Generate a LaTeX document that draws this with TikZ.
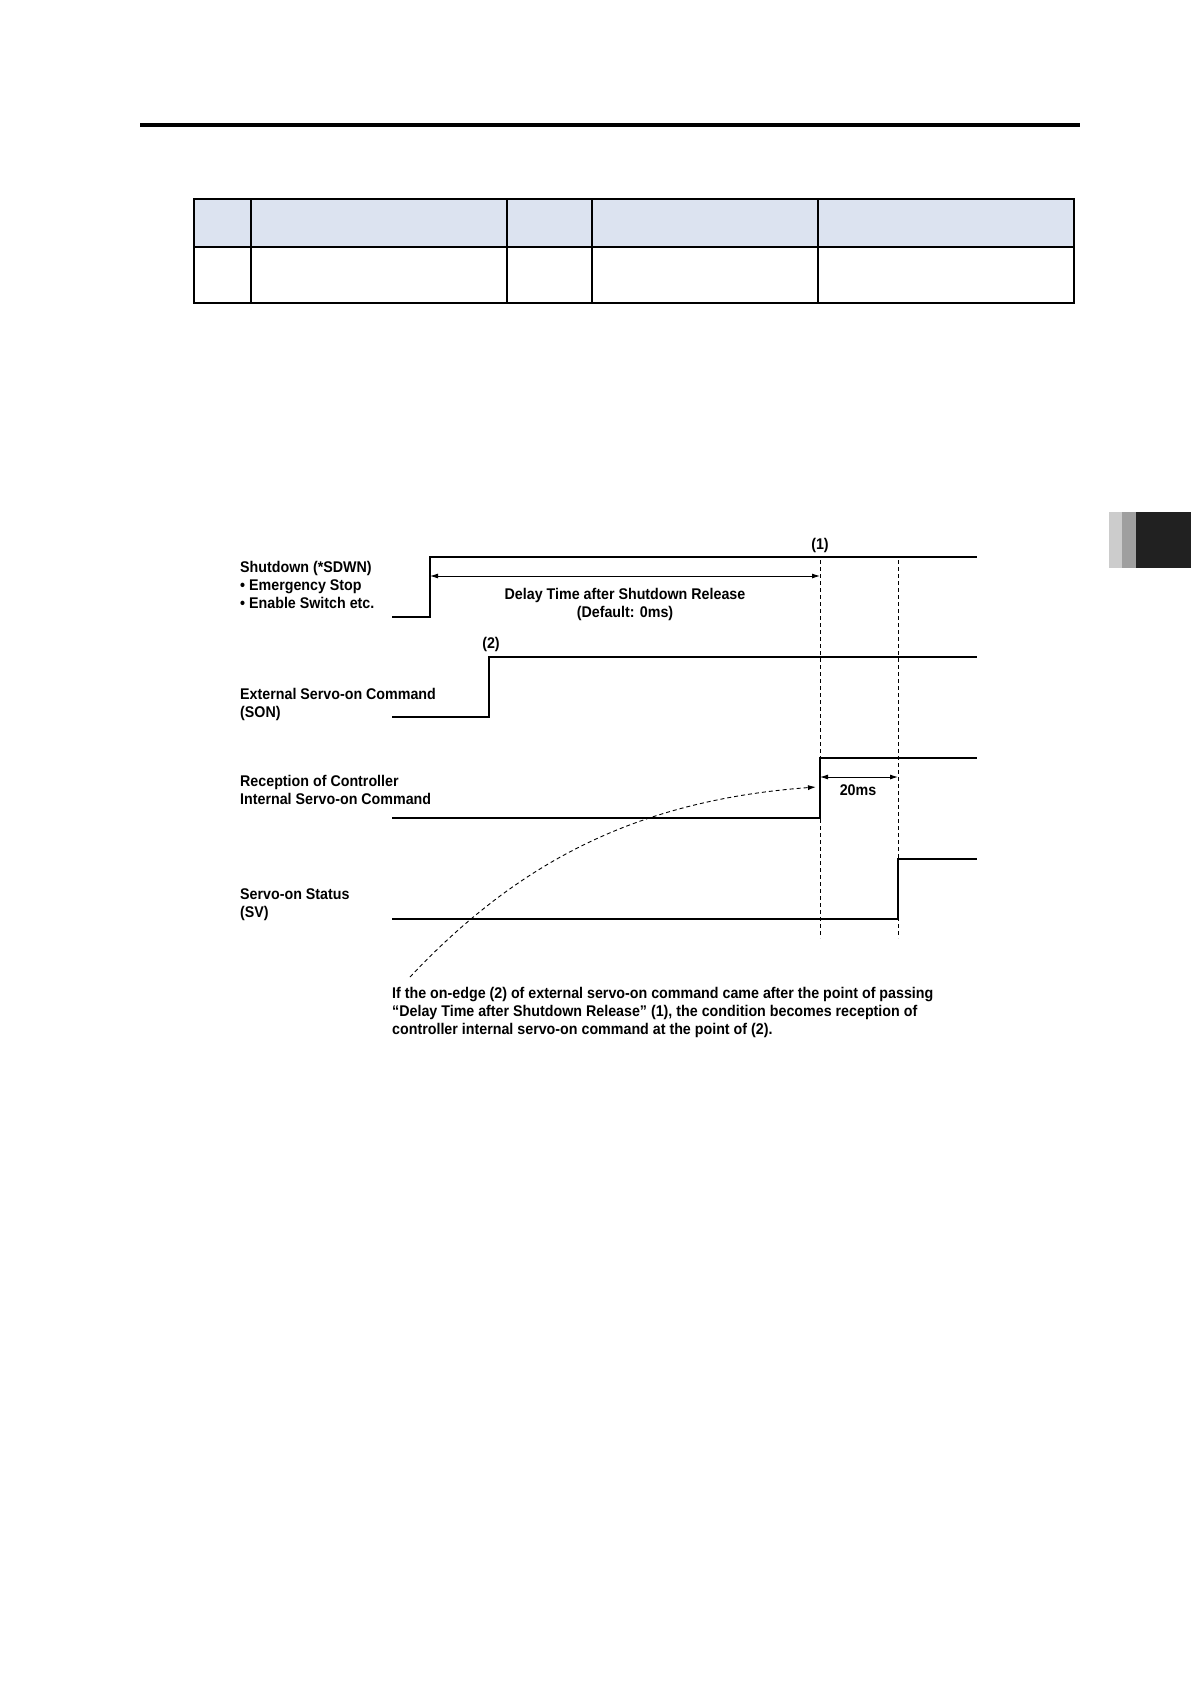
\documentclass[tikz,border=0pt]{standalone}
\usepackage{fontspec}
\setmainfont[FakeStretch=0.92]{Liberation Sans}
\usetikzlibrary{arrows.meta}
\begin{document}
\begin{tikzpicture}[x=1pt,y=-1pt,
 sig/.style={line width=2.8pt,line cap=butt,line join=miter},
 vdash/.style={line width=1pt,dash pattern=on 4pt off 3pt},
 fnt/.style={font=\bfseries\fontsize{15.5}{18}\selectfont},
 lbl/.style={fnt,anchor=west,align=left,inner sep=0pt},
 dim/.style={line width=0.9pt,{Latex[length=8pt,width=5pt]}-{Latex[length=8pt,width=5pt]}}]
\useasboundingbox (0,0) rectangle (1191,1684);
% header rule
\draw[line width=4.5pt] (140,125) -- (1080,125);
% table
\fill[fill={rgb,255:red,220;green,227;blue,240}] (194,199) rectangle (1074,247);
\draw[line width=1.6pt] (194,199) rectangle (1074,303) (194,247) -- (1074,247);
\foreach \c in {251,507,592,818}{\draw[line width=1.6pt] (\c,199) -- (\c,303);}
% side tab
\fill[gray!40] (1109,512) rectangle (1122,568);
\fill[gray!75] (1122,512) rectangle (1136,568);
\fill[black!87] (1136,512) rectangle (1191,568);
% coordinates
\coordinate (d1t) at (820,560); \coordinate (d1b) at (820,938);
\coordinate (d2t) at (898,560); \coordinate (d2b) at (898,938);
\draw[vdash] (d1t) -- (d1b); \draw[vdash] (d2t) -- (d2b);
% signals
\draw[sig] (392,617) -- (430,617) -- (430,557) -- (977,557);
\draw[sig] (392,717) -- (489,717) -- (489,657) -- (977,657);
\draw[sig] (392,818) -- (820,818) -- (820,758) -- (977,758);
\draw[sig] (392,919) -- (898,919) -- (898,859) -- (977,859);
% dims
\coordinate (a1) at (430,576); \coordinate (a2) at (820,576);
\draw[dim] (a1) -- (a2);
\coordinate (b1) at (820,777); \coordinate (b2) at (898,777);
\draw[dim] (b1) -- (b2);
\node[fnt,align=center] (dl) at (625,604) {Delay Time after Shutdown Release\\(Default: 0ms)};
\node[fnt] (t20) at (858,790) {20ms};
\node[fnt] (p1) at (820,545) {(1)};
\node[fnt] (p2) at (491,644) {(2)};
% labels
\node[lbl] (L1) at (240,585) {Shutdown (*SDWN)\\• Emergency Stop\\• Enable Switch etc.};
\node[lbl] (L2) at (240,704) {External Servo-on Command\\(SON)};
\node[lbl] (L3) at (240,790) {Reception of Controller\\Internal Servo-on Command};
\node[lbl] (L4) at (240,905) {Servo-on Status\\(SV)};
% curve
\coordinate (cs) at (410,977); \coordinate (ce) at (816,787);
\draw[line width=0.9pt,dash pattern=on 4pt off 3pt,-{Latex[length=8pt,width=5pt]}] (cs) .. controls (520,860) and (640,800) .. (ce);
\node[lbl] (note) at (392,1012) {If the on-edge (2) of external servo-on command came after the point of passing\\“Delay Time after Shutdown Release” (1), the condition becomes reception of\\controller internal servo-on command at the point of (2).};
\end{tikzpicture}
\end{document}
